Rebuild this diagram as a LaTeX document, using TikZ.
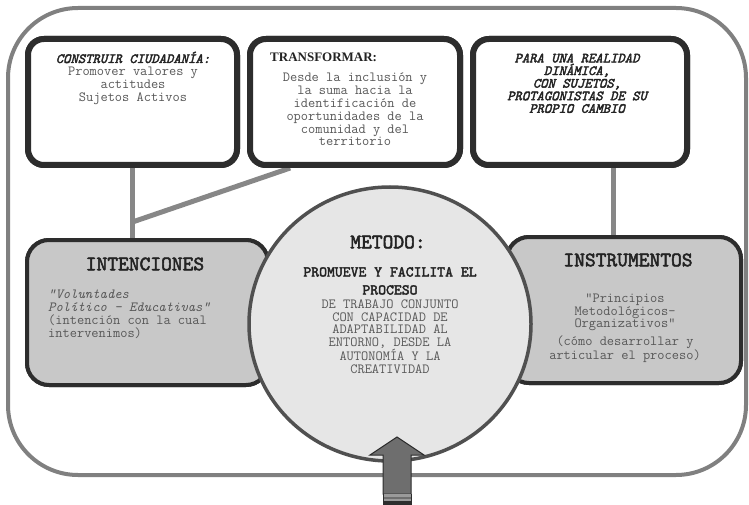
\documentclass[tikz,border=0pt]{standalone}
\usepackage{fontspec}
\setmainfont{Liberation Serif}
\newfontfamily\cbold{lmmono10-regular.otf}[FakeBold=2.5]
\newfontfamily\cbit{lmmono10-italic.otf}[FakeBold=2.5]
\usetikzlibrary{calc,shapes.geometric}

\definecolor{framegray}{RGB}{128,128,128}
\definecolor{boxdark}{RGB}{45,45,45}
\definecolor{conngray}{RGB}{135,135,135}
\definecolor{sidefill}{RGB}{200,200,200}
\definecolor{circfill}{RGB}{230,230,230}
\definecolor{circline}{RGB}{80,80,80}
\definecolor{arrowfill}{RGB}{110,110,110}
\definecolor{headtext}{RGB}{35,35,35}
\definecolor{bodytext}{RGB}{88,88,88}

\newcommand\bodysize{\fontsize{14}{12.8}\selectfont}
\newcommand\titlesize{\fontsize{20.5}{21}\selectfont}

\begin{document}
\begin{tikzpicture}[x=1pt,y=-1pt,
  topbox/.style={draw=boxdark, line width=6pt, rounded corners=16pt, fill=white,
    minimum height=126pt, inner sep=0pt},
  sidebox/.style={draw=boxdark, line width=4pt, rounded corners=22pt, fill=sidefill,
    inner sep=0pt},
  conn/.style={draw=conngray, line width=5pt},
  txt/.style={inner sep=0pt, text=bodytext, font=\ttfamily\bodysize},
  ttl/.style={inner sep=0pt, text=headtext, font=\cbold\titlesize}]

\useasboundingbox (0,0) rectangle (749,505);

% outer frame
\draw[framegray, line width=4pt, rounded corners=70pt] (8,8) rectangle (746,475);

% top row of boxes
\node[topbox, minimum width=209pt] (b1) at (132.5,102) {};
\node[topbox, minimum width=210pt] (b2) at (355,102) {};
\node[topbox, minimum width=214pt] (b3) at (580,102) {};

% side boxes
\node[sidebox, minimum width=241pt, minimum height=145pt] (int) at (147.5,312.5) {};
\node[sidebox, minimum width=234pt, minimum height=146pt] (ins) at (624,310) {};

% connectors
\coordinate (j) at ($(b1.south)+(0,54)$);
\draw[conn] (b1.south) -- (b1.south |- int.north);
\draw[conn] ($(b2.south west)!0.2!(b2.south east)$) -- (j);
\coordinate (k) at ($(b3.south west)!0.65!(b3.south east)$);
\draw[conn] (k) -- (k |- ins.north);

% boxes again, over the connector ends
\node[topbox, minimum width=209pt] at (b1) {};
\node[topbox, minimum width=210pt] at (b2) {};
\node[topbox, minimum width=214pt] at (b3) {};
\node[sidebox, minimum width=241pt, minimum height=145pt] at (int) {};
\node[sidebox, minimum width=234pt, minimum height=146pt] at (ins) {};

% central method circle
\node[ellipse, draw=circline, line width=3.5pt, fill=circfill,
  minimum width=282pt, minimum height=274pt, inner sep=0pt] (met) at (390,324) {};

% texts of the top boxes
\node[txt, anchor=north, align=center, font=\ttfamily\fontsize{14}{13}\selectfont] (t1) at (133,51.5)
  {{\color{headtext}\cbit CONSTRUIR CIUDADANÍA:}\\
   Promover valores y\\actitudes\\Sujetos Activos};
\node[inner sep=0pt, anchor=west, text=headtext, font=\bfseries\fontsize{13}{14}\selectfont]
  (t2h) at (270,57) {TRANSFORMAR:};
\node[txt, anchor=north, align=center] (t2) at (355,73)
  {Desde la inclusión y\\la suma hacia la\\identificación de\\oportunidades de la\\comunidad y del\\territorio};
\node[txt, anchor=north, align=center, text=headtext, font=\cbit\fontsize{14}{12.6}\selectfont]
  (t3) at (577,53.5)
  {PARA UNA REALIDAD\\DINÁMICA,\\CON SUJETOS,\\PROTAGONISTAS DE SU\\PROPIO CAMBIO};

% texts of the side boxes
\node[ttl] (t4h) at (145,264) {INTENCIONES};
\node[txt, anchor=north west, align=left, font=\ttfamily\fontsize{14}{13}\selectfont] (t4) at (48,289.5)
  {\itshape “Voluntades\\\itshape Político – Educativas”\\(intención con la cual\\intervenimos)};
\node[ttl] (t5h) at (628,260) {INSTRUMENTOS};
\node[txt, anchor=north, align=center] (t5) at (625,293.5)
  {“Principios\\Metodológicos-\\Organizativos”};
\node[txt, anchor=north, align=center] (t6) at (625,335.5)
  {(cómo desarrollar y\\articular el proceso)};

% texts of the circle
\node[ttl] (t7h) at (388,242) {METODO:};
\node[inner sep=0pt, anchor=north, align=center, text=headtext,
  font=\cbold\fontsize{15}{18}\selectfont] (t7) at (390,267)
  {PROMUEVE Y FACILITA EL\\PROCESO};
\node[txt, anchor=north, align=center, font=\ttfamily\fontsize{14}{12.7}\selectfont] (t8) at (390,299.5)
  {DE TRABAJO CONJUNTO\\CON CAPACIDAD DE\\ADAPTABILIDAD AL\\ENTORNO, DESDE LA\\AUTONOMÍA Y LA\\CREATIVIDAD};

% upward arrow into the circle
\coordinate (tip) at (397,437);
\draw[boxdark, line width=1pt, fill=arrowfill]
  (tip) -- (424,455) -- (411,455) -- (411,494) -- (383,494) -- (383,455) -- (370,455) -- cycle;
\fill[arrowfill!70!white] (383,494) rectangle (411,497);
\fill[arrowfill] (383,497) rectangle (411,499);
\fill[arrowfill!70!white] (383,499) rectangle (411,501);
\fill[boxdark] (383,501) rectangle (411,505);
\draw[boxdark, line width=1pt] (383,494) -- (383,505) (411,494) -- (411,505);
\end{tikzpicture}
\end{document}
